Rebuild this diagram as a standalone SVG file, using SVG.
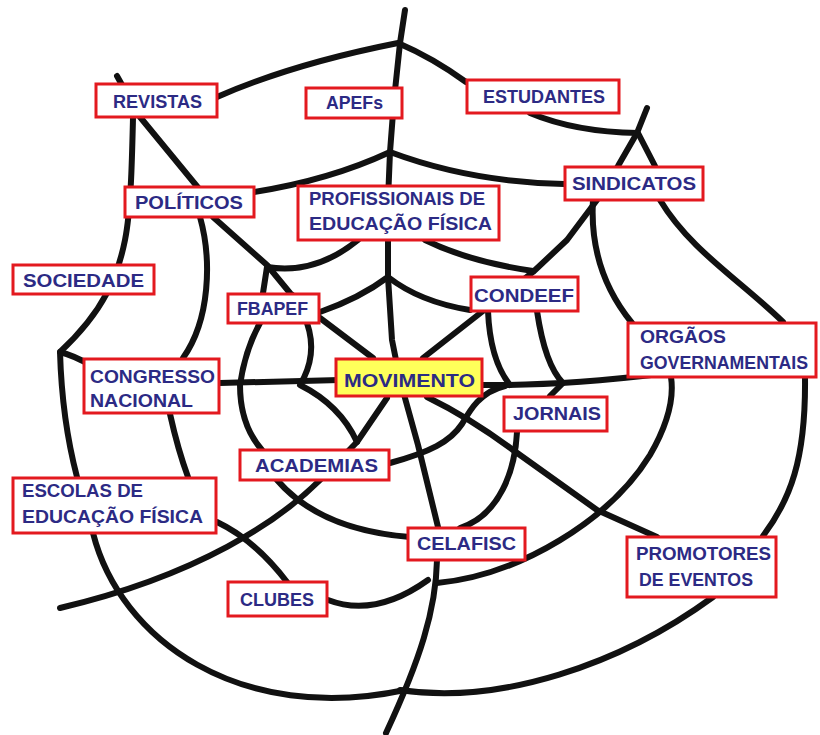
<svg xmlns="http://www.w3.org/2000/svg" width="820" height="735" viewBox="0 0 820 735">
<style>
.w{fill:none;stroke:#111;stroke-width:6;stroke-linecap:round;stroke-linejoin:round}
.b{fill:#fff;stroke:#e3191f;stroke-width:3}
.m{fill:#ffff5a;stroke:#e3191f;stroke-width:3}
text{font-family:"Liberation Sans",Arial,sans-serif;font-weight:bold;font-size:19px;fill:#2c2a84}
</style>
<rect width="820" height="735" fill="#fff"/>
<g id="connectors">
<path class="w" d="M405,10 L400,43 L394,100 L390,152 L388,200 L388,277 L392,340 L400,380 L418,445 L438,527 L437,560 C436,610 420,660 386,733"/>
<path class="w" d="M60,352 Q75,356 90,365 L220,383 L340,380"/>
<path class="w" d="M480,385 Q560,386 660,374"/>
<path class="w" d="M117,76 L140,117 L200,190 L213,217 L267,265 L290,293 L320,318 L373,358"/>
<path class="w" d="M423,358 L483,311 L533,272 L567,240 L597,200 L618,166 L637,133 L647,108"/>
<path class="w" d="M427,397 Q470,418 513,450 L597,510 L657,537"/>
<path class="w" d="M387,398 L357,442 L320,480 C280,520 200,575 60,608"/>
<path class="w" d="M320,312 Q360,298 388,277 Q420,302 470,310"/>
<path class="w" d="M488,311 Q490,360 510,385"/>
<path class="w" d="M505,386 C480,392 470,410 462,424 C450,442 430,452 390,463"/>
<path class="w" d="M307,323 Q318,355 300,385 Q340,405 357,442"/>
<path class="w" d="M263,293 L267,267 Q315,275 358,240"/>
<path class="w" d="M425,240 Q470,262 533,271"/>
<path class="w" d="M260,323 Q245,350 240,385 Q240,425 262,450"/>
<path class="w" d="M277,480 Q320,530 410,537"/>
<path class="w" d="M517,432 C515,470 500,515 460,528"/>
<path class="w" d="M537,311 Q545,365 563,383 L550,396"/>
<path class="w" d="M254,192 Q330,180 390,152 Q470,182 564,184"/>
<path class="w" d="M200,217 C212,260 210,320 183,358"/>
<path class="w" d="M170,414 Q178,450 188,477"/>
<path class="w" d="M217,522 Q255,540 287,582"/>
<path class="w" d="M328,600 Q375,618 428,580"/>
<path class="w" d="M437,583 C520,575 610,520 650,455 Q676,410 671,377"/>
<path class="w" d="M593,200 C590,250 605,290 632,323"/>
<path class="w" d="M217,97 Q292,64 398,43 Q433,58 466,82"/>
<path class="w" d="M530,113 Q575,132 638,133 L655,166"/>
<path class="w" d="M133,118 C132,160 131,210 125,240 C118,275 105,310 60,352 Q62,420 77,477"/>
<path class="w" d="M93,533 C120,640 240,725 405,690"/>
<path class="w" d="M400,690 C500,705 620,665 713,597"/>
<path class="w" d="M763,536 C790,500 806,460 805,377"/>
<path class="w" d="M783,322 C740,280 690,250 660,200"/>
</g>
<g id="revistas"><rect class="b" x="96" y="84" width="121" height="33"/><text x="113" y="108" textLength="89" lengthAdjust="spacingAndGlyphs">REVISTAS</text></g>
<g id="apefs"><rect class="b" x="306" y="88" width="96" height="30"/><text x="326" y="109" textLength="57" lengthAdjust="spacingAndGlyphs">APEFs</text></g>
<g id="estudantes"><rect class="b" x="467" y="80" width="152" height="33"/><text x="483" y="103" textLength="122" lengthAdjust="spacingAndGlyphs">ESTUDANTES</text></g>
<g id="politicos"><rect class="b" x="125" y="187" width="129" height="30"/><text x="135" y="209" textLength="108" lengthAdjust="spacingAndGlyphs">POLÍTICOS</text></g>
<g id="profissionais"><rect class="b" x="298" y="186" width="201" height="54"/><text x="309" y="205" textLength="176" lengthAdjust="spacingAndGlyphs">PROFISSIONAIS DE</text><text x="309" y="230" textLength="183" lengthAdjust="spacingAndGlyphs">EDUCAÇÃO FÍSICA</text></g>
<g id="sindicatos"><rect class="b" x="565" y="167" width="138" height="33"/><text x="572" y="190" textLength="124" lengthAdjust="spacingAndGlyphs">SINDICATOS</text></g>
<g id="sociedade"><rect class="b" x="13" y="265" width="141" height="29"/><text x="23" y="287" textLength="121" lengthAdjust="spacingAndGlyphs">SOCIEDADE</text></g>
<g id="fbapef"><rect class="b" x="228" y="294" width="91" height="29"/><text x="237" y="315" textLength="71" lengthAdjust="spacingAndGlyphs">FBAPEF</text></g>
<g id="condeef"><rect class="b" x="471" y="277" width="107" height="34"/><text x="474" y="302" textLength="100" lengthAdjust="spacingAndGlyphs">CONDEEF</text></g>
<g id="congresso"><rect class="b" x="84" y="359" width="135" height="54"/><text x="90" y="383" textLength="125" lengthAdjust="spacingAndGlyphs">CONGRESSO</text><text x="90" y="407" textLength="103" lengthAdjust="spacingAndGlyphs">NACIONAL</text></g>
<g id="movimento"><rect class="m" x="336" y="359" width="146" height="37"/><text x="344" y="387" textLength="131" lengthAdjust="spacingAndGlyphs">MOVIMENTO</text></g>
<g id="orgaos"><rect class="b" x="628" y="323" width="188" height="54"/><text x="640" y="343" textLength="86" lengthAdjust="spacingAndGlyphs">ORGÃOS</text><text x="640" y="369" textLength="168" lengthAdjust="spacingAndGlyphs">GOVERNAMENTAIS</text></g>
<g id="jornais"><rect class="b" x="504" y="397" width="103" height="34"/><text x="513" y="420" textLength="88" lengthAdjust="spacingAndGlyphs">JORNAIS</text></g>
<g id="academias"><rect class="b" x="240" y="450" width="149" height="30"/><text x="255" y="472" textLength="123" lengthAdjust="spacingAndGlyphs">ACADEMIAS</text></g>
<g id="escolas"><rect class="b" x="13" y="478" width="203" height="55"/><text x="22" y="497" textLength="121" lengthAdjust="spacingAndGlyphs">ESCOLAS DE</text><text x="22" y="523" textLength="181" lengthAdjust="spacingAndGlyphs">EDUCAÇÃO FÍSICA</text></g>
<g id="clubes"><rect class="b" x="228" y="582" width="99" height="34"/><text x="240" y="606" textLength="74" lengthAdjust="spacingAndGlyphs">CLUBES</text></g>
<g id="celafisc"><rect class="b" x="408" y="528" width="117" height="32"/><text x="417" y="550" textLength="99" lengthAdjust="spacingAndGlyphs">CELAFISC</text></g>
<g id="promotores"><rect class="b" x="627" y="537" width="149" height="60"/><text x="636" y="560" textLength="135" lengthAdjust="spacingAndGlyphs">PROMOTORES</text><text x="639" y="586" textLength="114" lengthAdjust="spacingAndGlyphs">DE EVENTOS</text></g>
</svg>
